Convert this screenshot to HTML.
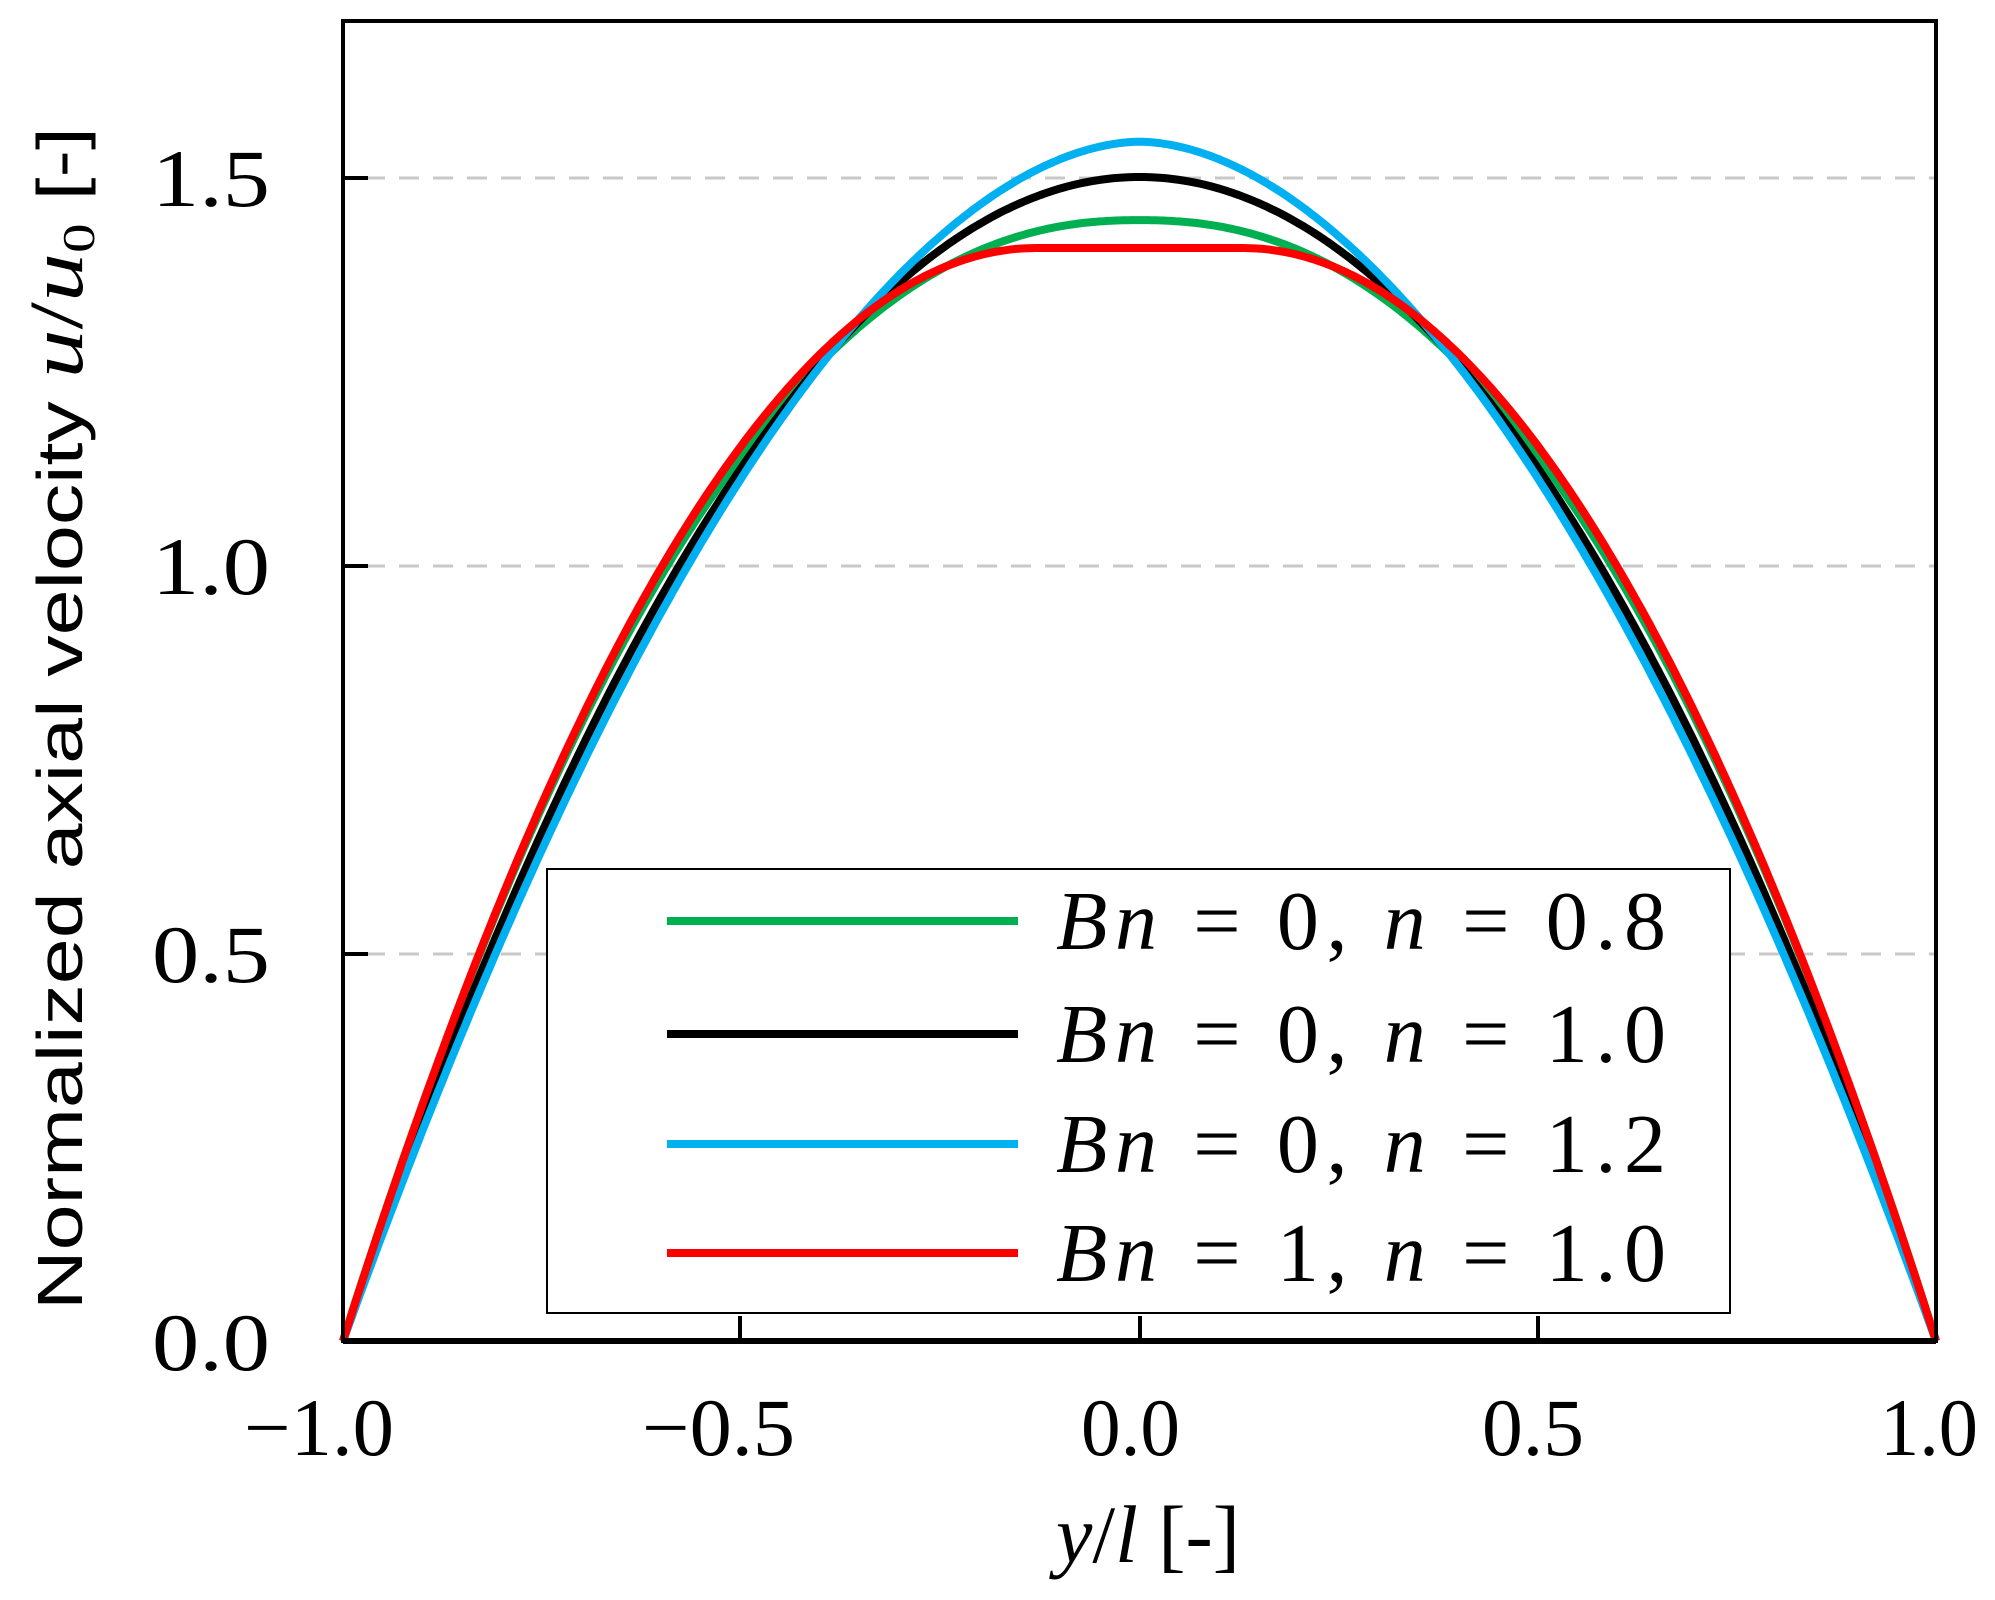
<!DOCTYPE html>
<html><head><meta charset="utf-8"><style>
html,body{margin:0;padding:0;background:#fff;}
</style></head><body>
<svg id="s" width="1995" height="1600" xmlns="http://www.w3.org/2000/svg" style="display:block">
<rect width="1995" height="1600" fill="#fff"/>
<g stroke="#c8c8c8" stroke-width="3" stroke-dasharray="20 14">
<line x1="365" y1="178" x2="1934" y2="178"/>
<line x1="365" y1="566" x2="1934" y2="566"/>
<line x1="365" y1="954" x2="1934" y2="954"/>
</g>
<g id="curves" fill="none" stroke-width="8" stroke-linejoin="round"></g>
<rect x="343" y="21" width="1593" height="1320" fill="none" stroke="#000" stroke-width="4"/>
<line x1="343" y1="1341" x2="1936" y2="1341" stroke="#000" stroke-width="6"/>
<g stroke="#000" stroke-width="4">
<line x1="343" y1="178" x2="368" y2="178"/>
<line x1="343" y1="566" x2="368" y2="566"/>
<line x1="343" y1="954" x2="368" y2="954"/>
<line x1="740" y1="1341" x2="740" y2="1316"/>
<line x1="1140" y1="1341" x2="1140" y2="1316"/>
<line x1="1538" y1="1341" x2="1538" y2="1316"/>
</g>
<rect x="547" y="869" width="1183" height="444" fill="#fff" stroke="#000" stroke-width="2"/>
<g stroke-width="8">
<line x1="667" y1="921" x2="1018" y2="921" stroke="#00b050"/>
<line x1="667" y1="1034" x2="1018" y2="1034" stroke="#000"/>
<line x1="667" y1="1144" x2="1018" y2="1144" stroke="#00b0f0"/>
<line x1="667" y1="1253" x2="1018" y2="1253" stroke="#ff0000"/>
</g>
<g font-family="Liberation Serif, serif" font-size="84" fill="#000">
<text x="1056" y="949" textLength="610" lengthAdjust="spacing"><tspan font-style="italic">Bn</tspan> = 0, <tspan font-style="italic">n</tspan> = 0.8</text>
<text x="1056" y="1062" textLength="610" lengthAdjust="spacing"><tspan font-style="italic">Bn</tspan> = 0, <tspan font-style="italic">n</tspan> = 1.0</text>
<text x="1056" y="1172" textLength="610" lengthAdjust="spacing"><tspan font-style="italic">Bn</tspan> = 0, <tspan font-style="italic">n</tspan> = 1.2</text>
<text x="1056" y="1281" textLength="610" lengthAdjust="spacing"><tspan font-style="italic">Bn</tspan> = 1, <tspan font-style="italic">n</tspan> = 1.0</text>
</g>
<g font-family="Liberation Serif, serif" font-size="82" fill="#000" lengthAdjust="spacingAndGlyphs">
<text x="152" y="206" textLength="118" lengthAdjust="spacingAndGlyphs">1.5</text>
<text x="152" y="594" textLength="118" lengthAdjust="spacingAndGlyphs">1.0</text>
<text x="152" y="982" textLength="118" lengthAdjust="spacingAndGlyphs">0.5</text>
<text x="152" y="1370" textLength="118" lengthAdjust="spacingAndGlyphs">0.0</text>
<text x="244" y="1455" textLength="150" lengthAdjust="spacingAndGlyphs">−1.0</text>
<text x="642" y="1455" textLength="153" lengthAdjust="spacingAndGlyphs">−0.5</text>
<text x="1081" y="1455" textLength="99" lengthAdjust="spacingAndGlyphs">0.0</text>
<text x="1482" y="1455" textLength="102" lengthAdjust="spacingAndGlyphs">0.5</text>
<text x="1880" y="1455" textLength="98" lengthAdjust="spacingAndGlyphs">1.0</text>
<text x="1056" y="1562" textLength="184" lengthAdjust="spacingAndGlyphs"><tspan font-style="italic">y</tspan>/<tspan font-style="italic">l</tspan> [-]</text>
</g>
<text transform="translate(82,1310) rotate(-90)" textLength="1183" lengthAdjust="spacingAndGlyphs" font-family="Liberation Sans, sans-serif" font-size="64" fill="#000">Normalized  axial velocity <tspan font-family="Liberation Serif, serif" font-style="italic" font-size="76">u</tspan><tspan font-family="Liberation Serif, serif" font-size="76">/</tspan><tspan font-family="Liberation Serif, serif" font-style="italic" font-size="76">u</tspan><tspan font-family="Liberation Serif, serif" font-size="46" dy="12">0</tspan><tspan dy="-12"> [-]</tspan></text>
</svg>
<script>
var X0=343,X1=1936,Y0=1341,SC=776;
function px(y){return X0+(y+1)/2*(X1-X0);}
function py(u){return Y0-u*SC;}
function pl(n){return function(y){var a=Math.abs(y);return (2*n+1)/(n+1)*(1-Math.pow(a,(n+1)/n));};}
function bing(yp){var L=1-yp,m=yp*L*L+2*L*L*L/3;return function(y){var a=Math.abs(y);if(a<yp)return L*L/m;return (1-a)*(1+a-2*yp)/m;};}
var series=[[pl(0.8),"#00b050"],[pl(1.0),"#000"],[pl(1.2),"#00b0f0"],[bing(0.13),"#ff0000"]];
var g=document.getElementById("curves");
series.forEach(function(s){var d="";for(var i=0;i<=400;i++){var y=-1+2*i/400;d+=(i?"L":"M")+px(y).toFixed(1)+","+py(s[0](y)).toFixed(1);}
var p=document.createElementNS("http://www.w3.org/2000/svg","path");p.setAttribute("d",d);p.setAttribute("stroke",s[1]);g.appendChild(p);});
</script>
</body></html>
